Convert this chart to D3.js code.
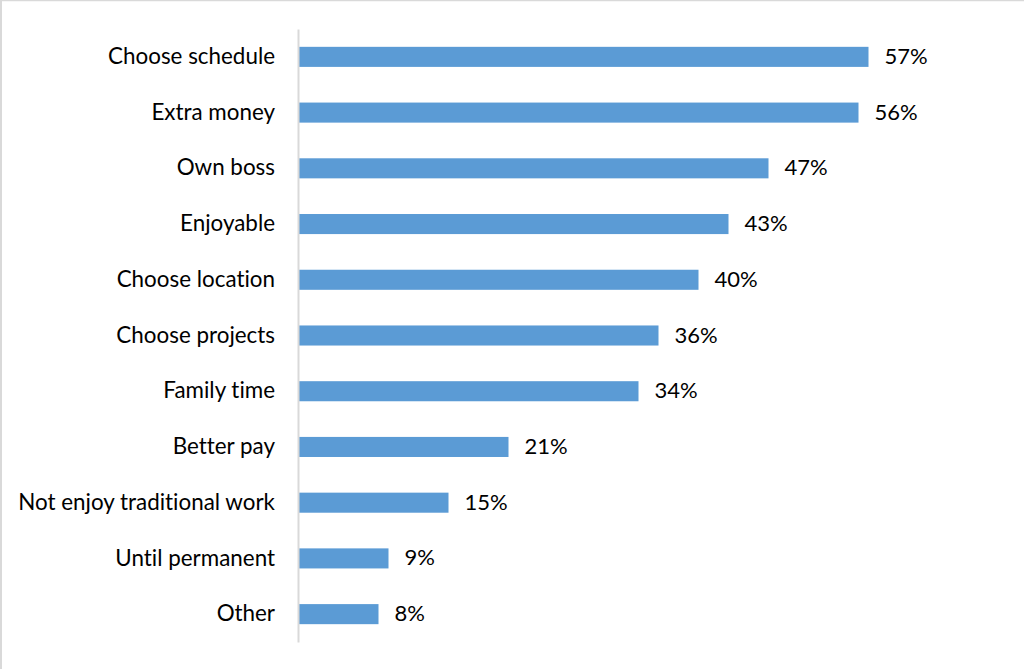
<!DOCTYPE html>
<html>
<head>
<meta charset="utf-8">
<script src="https://cdn.jsdelivr.net/npm/d3@7"></script>
<style>
  html, body { margin: 0; padding: 0; background: #fff; }
  svg { display: block; }
  text { font-family: Lato, "Open Sans", sans-serif; fill: #000;
         font-variant-ligatures: none; font-feature-settings: "liga" 0, "clig" 0; }
</style>
</head>
<body>
<svg id="chart" width="1024" height="670"></svg>
<script>
// Reasons for freelancing, share of respondents (%)
const categories = [
  "Choose schedule", "Extra money", "Own boss", "Enjoyable", "Choose location",
  "Choose projects", "Family time", "Better pay", "Not enjoy traditional work",
  "Until permanent", "Other"
];
const values = [57, 56, 47, 43, 40, 36, 34, 21, 15, 9, 8];
const valueLabels = ["57%", "56%", "47%", "43%", "40%", "36%", "34%", "21%", "15%", "9%", "8%"];

const data = categories.map((c, i) => ({ name: c, value: values[i], label: valueLabels[i] }));

const svg = d3.select("#chart");
const W = 1024, H = 670;
const FONT = "Lato, 'Open Sans', sans-serif";

// frame edges
svg.append("line").attr("x1", 0).attr("x2", W).attr("y1", 0.5).attr("y2", 0.5)
  .attr("stroke", "#d9d9d9").attr("stroke-width", 1.5);
svg.append("line").attr("x1", 1).attr("x2", 1).attr("y1", 0).attr("y2", 669)
  .attr("stroke", "#d9d9d9").attr("stroke-width", 2);

const x = d3.scaleLinear().domain([0, 60]).range([298.5, 898.5]);
const y = d3.scaleBand().domain(categories).range([29, 642]).paddingInner(0.64).paddingOuter(0.32);

// bars
svg.append("g").selectAll("rect").data(data).join("rect")
  .attr("x", x(0))
  .attr("y", d => y(d.name))
  .attr("width", d => x(d.value) - x(0))
  .attr("height", y.bandwidth())
  .attr("fill", "#5b9bd5");

// value labels
svg.append("g").selectAll("text").data(data).join("text")
  .attr("x", d => x(d.value) + 16)
  .attr("y", d => y(d.name) + y.bandwidth() / 2)
  .attr("dy", "0.32em")
  .attr("font-size", 22)
  .attr("font-family", FONT)
  .text(d => d.label);

// category axis
const axis = svg.append("g")
  .attr("transform", `translate(${x(0) - 0.5},0)`)
  .call(d3.axisLeft(y).tickSize(0).tickPadding(23));
axis.select(".domain").attr("stroke", "#d9d9d9").attr("stroke-width", 2);
axis.selectAll("text")
  .attr("font-size", 22.4)
  .attr("dy", "0.32em")
  .attr("font-family", FONT)
  .attr("fill", "#000");
</script>
</body>
</html>
